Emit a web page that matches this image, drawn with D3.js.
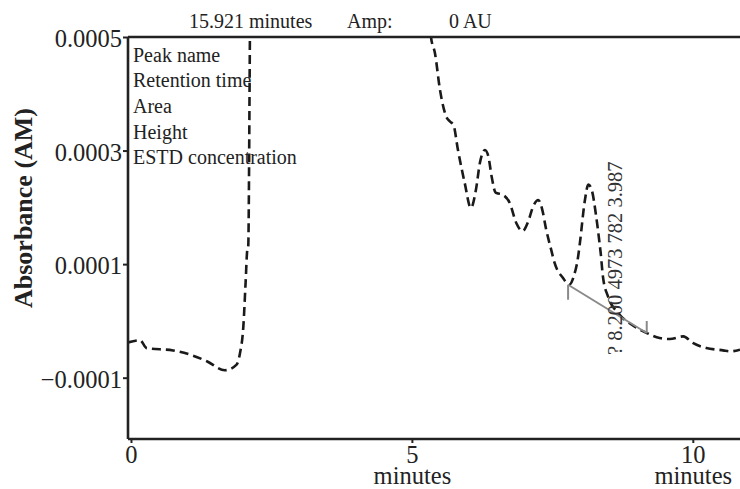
<!DOCTYPE html>
<html>
<head>
<meta charset="utf-8">
<script src="https://cdn.jsdelivr.net/npm/d3@7"></script>
<style>
  html, body { margin: 0; padding: 0; background: #fff; }
  svg { display: block; }
  text { font-family: "Liberation Serif", "Times New Roman", serif; fill: #222; }
</style>
</head>
<body>
<svg id="chart" width="740" height="489"></svg>
<script>
// ---- data ----
const times = [-0.053, 0.16, 0.28, 0.75, 1.10, 1.35, 1.67, 1.88, 1.94, 2.00, 2.04, 2.07, 2.087, 2.117, 2.14,
  3.5, 5.30, 5.34, 5.41, 5.50, 5.61, 5.68, 5.74, 5.82, 5.94, 6.05, 6.14, 6.21, 6.30, 6.36, 6.42, 6.49,
  6.62, 6.74, 6.86, 6.97, 7.07, 7.16, 7.25, 7.32, 7.39, 7.48, 7.54, 7.69, 7.80, 7.88, 7.96, 7.99,
  8.08, 8.14, 8.20, 8.28, 8.34, 8.36, 8.40, 8.49, 8.67, 8.94, 9.18, 9.41, 9.59, 9.83, 10.00,
  10.24, 10.54, 10.66, 10.84];
const absorbance = [-0.000038, -0.000034, -0.000048, -0.000052, -0.000061, -0.000071, -0.000087, -0.000077,
  -0.000057, -0.000010, 0.000067, 0.000125, 0.000131, 0.000500, 0.000800,
  0.002000, 0.000620, 0.000500, 0.000472, 0.000407, 0.000360, 0.000351, 0.000345, 0.000301, 0.000243,
  0.000199, 0.000231, 0.000278, 0.000301, 0.000290, 0.000254, 0.000226,
  0.000222, 0.000208, 0.000172, 0.000158, 0.000175, 0.000202, 0.000213, 0.000196, 0.000161, 0.000125,
  0.000102, 0.0000755, 0.0000637, 0.0000783, 0.000114, 0.000137,
  0.000213, 0.000240, 0.000231, 0.000184, 0.000137, 0.000120, 0.0000783, 0.0000431, 0.0000139,
  -0.0000085, -0.0000213, -0.0000301, -0.0000319, -0.0000273, -0.0000389,
  -0.0000477, -0.0000519, -0.0000537, -0.0000507];
const xTicks = [0, 5, 10];
const xTickUnit = "minutes";
const yTicks = [0.0005, 0.0003, 0.0001, -0.0001];
const yTickLabels = ["0.0005", "0.0003", "0.0001", "\u22120.0001"];
const yLabel = "Absorbance (AM)";
const headerTexts = ["15.921 minutes", "Amp:", "0 AU"];
const peakFields = ["Peak name", "Retention time", "Area", "Height", "ESTD concentration"];
const peakAnnotation = "? 8.200 4973 782 3.987";
const baselineStart = [7.78, 0.0000637];
const baselineEnd = [9.18, -0.0000213];

// ---- layout ----
const svg = d3.select("#chart");
const mLeft = 128, mRight = 740, mTop = 37, mBottom = 439;
const x = d3.scaleLinear().domain([-0.053, 10.84]).range([mLeft, mRight]);
const y = d3.scaleLinear().domain([-0.000208, 0.0005]).range([mBottom, mTop]);

svg.append("clipPath").attr("id", "plotclip")
  .append("rect").attr("x", mLeft).attr("y", mTop).attr("width", mRight - mLeft).attr("height", mBottom - mTop);

// header
const headerX = [189, 347, 449];
svg.selectAll("text.hdr").data(headerTexts).join("text").attr("class", "hdr")
  .attr("x", (d, i) => headerX[i]).attr("y", 28).attr("font-size", 20).text(d => d);

// curve
const pts = times.map((t, i) => [t, absorbance[i]]);
svg.append("path").datum(pts)
  .attr("clip-path", "url(#plotclip)")
  .attr("fill", "none").attr("stroke", "#1a1a1a").attr("stroke-width", 2.6)
  .attr("stroke-dasharray", "9,5").attr("stroke-linejoin", "round")
  .attr("d", d3.line().x(d => x(d[0])).y(d => y(d[1])).curve(d3.curveMonotoneX));

// baseline segment
const gray = "#8a8a8a";
svg.append("line").attr("x1", x(baselineStart[0])).attr("y1", y(baselineStart[1]))
  .attr("x2", x(baselineEnd[0])).attr("y2", y(baselineEnd[1]))
  .attr("stroke", gray).attr("stroke-width", 2);
svg.append("line").attr("x1", x(baselineStart[0])).attr("y1", y(baselineStart[1]))
  .attr("x2", x(baselineStart[0])).attr("y2", y(baselineStart[1]) + 15)
  .attr("stroke", gray).attr("stroke-width", 2);
svg.append("line").attr("x1", x(baselineEnd[0])).attr("y1", y(baselineEnd[1]))
  .attr("x2", x(baselineEnd[0])).attr("y2", y(baselineEnd[1]) - 12)
  .attr("stroke", gray).attr("stroke-width", 2);

// peak annotation (rotated)
const annX = x(8.74), annY = 355;
svg.append("text").attr("transform", `translate(${annX},${annY}) rotate(-90)`)
  .attr("font-size", 20.5).style("fill", "#333").text(peakAnnotation);

// peak info fields
svg.selectAll("text.field").data(peakFields).join("text").attr("class", "field")
  .attr("x", 133).attr("y", (d, i) => 61.7 + i * 25.6).attr("font-size", 20).text(d => d);

// axes
const axisColor = "#222";
svg.append("line").attr("x1", mLeft).attr("x2", mRight).attr("y1", mTop).attr("y2", mTop)
  .attr("stroke", axisColor).attr("stroke-width", 2.6);
const yAxis = svg.append("g").attr("transform", `translate(${mLeft},0)`)
  .call(d3.axisLeft(y).tickValues(yTicks).tickSize(5).tickPadding(1).tickFormat((d, i) => yTickLabels[i]));
const xAxis = svg.append("g").attr("transform", `translate(0,${mBottom})`)
  .call(d3.axisBottom(x).tickValues(xTicks).tickSize(4).tickPadding(2).tickFormat(d3.format("d")));
[xAxis, yAxis].forEach(g => {
  g.select(".domain").attr("stroke", axisColor).attr("stroke-width", 2.6);
  g.selectAll(".tick line").attr("stroke", axisColor).attr("stroke-width", 2);
  g.selectAll(".tick text").attr("font-family", "Liberation Serif").attr("font-size", 24.5).attr("fill", "#222");
});
yAxis.select(".domain").attr("d", `M0,${mBottom}V${mTop}`);
xAxis.select(".domain").attr("d", `M${mLeft},0H${mRight}`);
yAxis.selectAll(".tick text").attr("dy", "0.39em");
// x tick labels: number plus unit line (as tspans of one text)
xAxis.selectAll(".tick text").each(function(d) {
  const t = d3.select(this).text(null).attr("font-size", 24.5).attr("y", 0).attr("dy", null);
  t.append("tspan").attr("x", 0).attr("y", 23.5).text(d3.format("d")(d));
  if (d !== 0) t.append("tspan").attr("x", 0).attr("y", 45).text(xTickUnit);
});

// y label
svg.append("text").attr("transform", `translate(${32},${208}) rotate(-90)`)
  .attr("text-anchor", "middle").attr("font-size", 26).attr("font-weight", "bold").text(yLabel);
</script>
</body>
</html>
